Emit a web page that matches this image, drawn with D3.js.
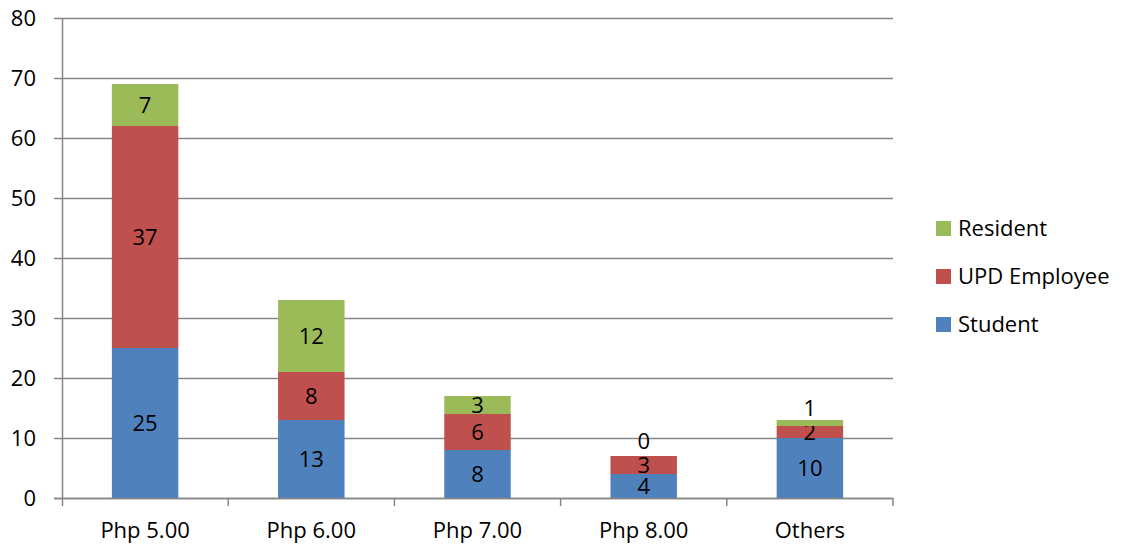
<!DOCTYPE html>
<html>
<head>
<meta charset="utf-8">
<script src="https://cdn.jsdelivr.net/npm/d3@7"></script>
<style>
  body { margin: 0; background: #fff; }
  text { font-family: "Open Sans", sans-serif; fill: #000; }
</style>
</head>
<body>
<script>
// data
var categories = ["Php 5.00", "Php 6.00", "Php 7.00", "Php 8.00", "Others"];
var seriesNames = ["Student", "UPD Employee", "Resident"];
var student = [25, 13, 8, 4, 10];
var updEmployee = [37, 8, 6, 3, 2];
var resident = [7, 12, 3, 0, 1];
var yTicks = [0, 10, 20, 30, 40, 50, 60, 70, 80];
var colors = ["#4F81BD", "#C0504D", "#9BBB59"];

var w = 1124, h = 546;
var plotLeft = 62, plotRight = 893, plotTop = 18, plotBottom = 498;
var fontsize = 22;

var svg = d3.select("body").append("svg")
  .attr("width", w)
  .attr("height", h);

var xScale = d3.scaleBand()
  .domain(categories)
  .range([plotLeft, plotRight])
  .paddingInner(0.6)
  .paddingOuter(0.3);

var yScale = d3.scaleLinear()
  .domain([0, 80])
  .range([plotBottom, plotTop]);

// gridlines
svg.append("g")
  .selectAll("line")
  .data(yTicks)
  .enter()
  .append("line")
  .attr("x1", plotLeft - 8)
  .attr("x2", plotRight)
  .attr("y1", function(d) { return yScale(d) + 0.5; })
  .attr("y2", function(d) { return yScale(d) + 0.5; })
  .attr("stroke", "#868686")
  .attr("stroke-width", 1.5);

// y tick labels
svg.append("g")
  .selectAll("text")
  .data(yTicks)
  .enter()
  .append("text")
  .attr("x", 36)
  .attr("y", function(d) { return yScale(d); })
  .attr("dy", "0.36em")
  .attr("text-anchor", "end")
  .attr("font-size", fontsize + "px")
  .text(function(d) { return d; });

// stacked data
var table = categories.map(function(c, i) {
  return { cat: c, Student: student[i], "UPD Employee": updEmployee[i], Resident: resident[i] };
});
var stacked = d3.stack().keys(seriesNames)(table);

var layers = svg.selectAll("g.layer")
  .data(stacked)
  .enter()
  .append("g")
  .attr("class", "layer")
  .attr("fill", function(d, i) { return colors[i]; });

layers.selectAll("rect")
  .data(function(d) { return d; })
  .enter()
  .append("rect")
  .attr("x", function(d) { return xScale(d.data.cat); })
  .attr("width", xScale.bandwidth())
  .attr("y", function(d) { return yScale(d[1]); })
  .attr("height", function(d) { return yScale(d[0]) - yScale(d[1]); });

// value labels
layers.selectAll("text")
  .data(function(d) {
    return d.map(function(p) { return { p: p, key: d.key }; });
  })
  .enter()
  .append("text")
  .attr("x", function(d) { return xScale(d.p.data.cat) + xScale.bandwidth() / 2; })
  .attr("y", function(d) {
    var mid = yScale((d.p[0] + d.p[1]) / 2);
    // very thin segment: label sits above it
    if (d.p[1] - d.p[0] <= 1) return mid - 15;
    return mid;
  })
  .attr("dy", "0.36em")
  .attr("text-anchor", "middle")
  .attr("font-size", fontsize + "px")
  .text(function(d) { return d.p.data[d.key]; });

// x axis
var xAxis = svg.append("g");
xAxis.append("line")
  .attr("x1", plotLeft - 8).attr("x2", plotRight)
  .attr("y1", plotBottom + 0.5).attr("y2", plotBottom + 0.5)
  .attr("stroke", "#868686").attr("stroke-width", 1.5);
xAxis.append("line")
  .attr("x1", plotLeft + 0.5).attr("x2", plotLeft + 0.5)
  .attr("y1", plotTop).attr("y2", plotBottom + 8)
  .attr("stroke", "#868686").attr("stroke-width", 1.5);

var step = xScale.step();
var boundaries = categories.map(function(c) { return xScale(c) + xScale.bandwidth() / 2 + step / 2; });
xAxis.selectAll("line.tick")
  .data(boundaries)
  .enter()
  .append("line")
  .attr("class", "tick")
  .attr("x1", function(d) { return d; })
  .attr("x2", function(d) { return d; })
  .attr("y1", plotBottom)
  .attr("y2", plotBottom + 8)
  .attr("stroke", "#868686").attr("stroke-width", 1.5);

xAxis.selectAll("text")
  .data(categories)
  .enter()
  .append("text")
  .attr("x", function(d) { return xScale(d) + xScale.bandwidth() / 2; })
  .attr("y", 530)
  .attr("dy", "0.36em")
  .attr("text-anchor", "middle")
  .attr("font-size", fontsize + "px")
  .text(function(d) { return d; });

// legend (reverse order)
var legendItems = seriesNames.map(function(s, i) { return { name: s, color: colors[i] }; }).reverse();
var legend = svg.append("g")
  .selectAll("g")
  .data(legendItems)
  .enter()
  .append("g")
  .attr("transform", function(d, i) { return "translate(936," + (228 + i * 48) + ")"; });
legend.append("rect")
  .attr("x", 0).attr("y", -7)
  .attr("width", 15).attr("height", 15)
  .attr("fill", function(d) { return d.color; });
legend.append("text")
  .attr("x", 22)
  .attr("y", 0)
  .attr("dy", "0.36em")
  .attr("font-size", fontsize + "px")
  .text(function(d) { return d.name; });
</script>
</body>
</html>
